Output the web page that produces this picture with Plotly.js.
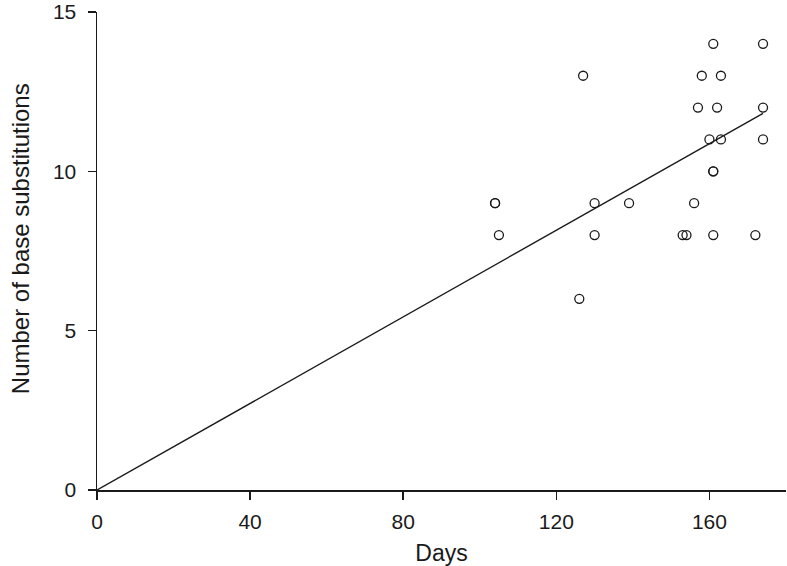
<!DOCTYPE html>
<html>
<head>
<meta charset="utf-8">
<script src="https://cdn.plot.ly/plotly-3.0.1.min.js"></script>
<style>
  html, body { margin: 0; padding: 0; background: #fff; }
  #chart { width: 787px; height: 566px; }
</style>
</head>
<body>
<div id="chart"></div>
<script>
  // observed samples: days since start vs. substitutions counted
  const days = [104, 104, 105, 126, 127, 130, 130, 139, 153, 154, 156, 157, 158,
                160, 161, 161, 161, 161, 162, 163, 163, 172, 174, 174, 174];
  const substitutions = [9, 9, 8, 6, 13, 9, 8, 9, 8, 8, 9, 12, 13,
                         11, 14, 10, 10, 8, 12, 13, 11, 8, 14, 12, 11];

  // fitted line through the origin, endpoints
  const fitDays = [0, 174];
  const fitSubs = [0, 11.82];

  const xTicks = [0, 40, 80, 120, 160];
  const yTicks = [0, 5, 10, 15];

  const FONT = 'Liberation Sans, Arial, Helvetica, sans-serif';
  const INK = '#1a1a1a';

  const points = {
    x: days,
    y: substitutions,
    type: 'scatter',
    mode: 'markers',
    marker: {
      symbol: 'circle-open',
      size: 9,
      color: INK,
      line: { color: INK, width: 1.3 }
    },
    hoverinfo: 'x+y'
  };

  const fit = {
    x: fitDays,
    y: fitSubs,
    type: 'scatter',
    mode: 'lines',
    line: { color: INK, width: 1.4 },
    hoverinfo: 'skip'
  };

  const axisCommon = {
    showline: true,
    linecolor: INK,
    linewidth: 1.5,
    ticks: 'outside',
    ticklen: 8,
    tickwidth: 1.5,
    tickcolor: INK,
    showgrid: false,
    zeroline: false,
    tickfont: { family: FONT, size: 21, color: INK }
  };

  const layout = {
    width: 787,
    height: 566,
    margin: { l: 97, r: 1, t: 12, b: 76 },
    paper_bgcolor: '#fff',
    plot_bgcolor: '#fff',
    showlegend: false,
    xaxis: Object.assign({}, axisCommon, {
      range: [0, 180],
      tickvals: xTicks,
      ticktext: xTicks.map(String),
      ticklabelstandoff: 4,
      title: { text: 'Days', font: { family: FONT, size: 23, color: INK }, standoff: 13 }
    }),
    yaxis: Object.assign({}, axisCommon, {
      range: [0, 15],
      tickvals: yTicks,
      ticktext: yTicks.map(String),
      ticklabelstandoff: 7
    }),
    annotations: [{
      text: 'Number of base substitutions',
      xref: 'paper', yref: 'paper',
      x: -0.1116, y: 0.525,
      xanchor: 'center', yanchor: 'middle',
      textangle: -90,
      showarrow: false,
      font: { family: FONT, size: 24, color: INK }
    }]
  };

  Plotly.newPlot('chart', [fit, points], layout, { displayModeBar: false, staticPlot: true });
</script>
</body>
</html>
